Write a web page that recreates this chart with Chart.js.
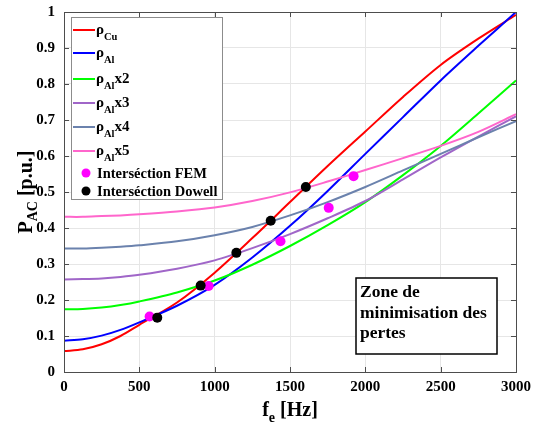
<!DOCTYPE html>
<html>
<head>
<meta charset="utf-8">
<script src="https://cdn.jsdelivr.net/npm/chart.js@4.4.1/dist/chart.umd.min.js"></script>
<style>
  html, body { margin: 0; padding: 0; background: #fff; }
  #wrap { width: 534px; height: 424px; }
</style>
</head>
<body>
<div id="wrap"><canvas id="chart" width="534" height="424"></canvas></div>
<script>
// fréquence [Hz]
const freq = [0, 125, 250, 375, 500, 750, 1000, 1250, 1500, 1750, 2000, 2250, 2500, 2750, 3000];

// P_AC [p.u.] pour chaque résistivité
const rhoCu  = [0.058, 0.063, 0.077, 0.100, 0.131, 0.193, 0.276, 0.372, 0.472, 0.572, 0.668, 0.764, 0.853, 0.926, 0.992];
const rhoAl  = [0.087, 0.091, 0.101, 0.117, 0.138, 0.184, 0.242, 0.318, 0.406, 0.503, 0.606, 0.708, 0.810, 0.906, 1.000];
const rhoAl2 = [0.174, 0.175, 0.179, 0.186, 0.196, 0.221, 0.254, 0.298, 0.350, 0.408, 0.472, 0.547, 0.628, 0.718, 0.810];
const rhoAl3 = [0.257, 0.258, 0.260, 0.264, 0.270, 0.287, 0.310, 0.344, 0.383, 0.427, 0.475, 0.535, 0.596, 0.654, 0.710];
const rhoAl4 = [0.343, 0.343, 0.345, 0.348, 0.352, 0.363, 0.380, 0.403, 0.435, 0.472, 0.514, 0.560, 0.606, 0.652, 0.697];
const rhoAl5 = [0.431, 0.431, 0.433, 0.435, 0.438, 0.446, 0.457, 0.475, 0.499, 0.529, 0.561, 0.594, 0.628, 0.667, 0.716];

// points d'intersection
const femX    = [568, 960, 1437, 1757, 1922];
const femY    = [0.154, 0.239, 0.363, 0.456, 0.544];
const dowellX = [619, 907, 1144, 1372, 1605];
const dowellY = [0.151, 0.240, 0.331, 0.420, 0.514];

const seriesSubs  = ['Cu', 'Al', 'Al', 'Al', 'Al', 'Al'];
const seriesRest  = ['', '', 'x2', 'x3', 'x4', 'x5'];
const seriesColor = ['#ff0000', '#0000ff', '#00ff00', '#a066c8', '#6b82ad', '#ff66cc'];
const seriesData  = [rhoCu, rhoAl, rhoAl2, rhoAl3, rhoAl4, rhoAl5];
const markerNames = ['Interséction FEM', 'Interséction Dowell'];
const markerColor = ['#ff00ff', '#000000'];
const zoneLines   = ['Zone de', 'minimisation des', 'pertes'];

const SERIF = "'Liberation Serif', 'Times New Roman', serif";

function pts(xs, ys) {
    return xs.map((x, i) => ({ x: x, y: ys[i] }));
}

// texte avec indice
function subText(ctx, x, y, main, sub, rest, size, subSize, drop) {
    ctx.font = 'bold ' + size + 'px ' + SERIF;
    ctx.fillText(main, x, y);
    x += ctx.measureText(main).width;
    ctx.font = 'bold ' + subSize + 'px ' + SERIF;
    ctx.fillText(sub, x, y + drop);
    x += ctx.measureText(sub).width;
    if (rest) {
        ctx.font = 'bold ' + size + 'px ' + SERIF;
        ctx.fillText(rest, x, y);
        x += ctx.measureText(rest).width;
    }
    return x;
}

function subWidth(ctx, main, sub, rest, size, subSize) {
    ctx.font = 'bold ' + size + 'px ' + SERIF;
    let w = ctx.measureText(main).width + ctx.measureText(rest).width;
    ctx.font = 'bold ' + subSize + 'px ' + SERIF;
    return w + ctx.measureText(sub).width;
}

const decor = {
    id: 'decor',
    afterDraw(chart) {
        const ctx = chart.ctx;
        const a = chart.chartArea;
        const sx = chart.scales.x, sy = chart.scales.y;
        ctx.save();

        // cadre + graduations intérieures
        ctx.strokeStyle = '#4d4d4d';
        ctx.lineWidth = 1;
        ctx.beginPath();
        sx.ticks.forEach(t => {
            const px = Math.round(sx.getPixelForValue(t.value)) + 0.5;
            ctx.moveTo(px, a.bottom); ctx.lineTo(px, a.bottom - 5);
            ctx.moveTo(px, a.top); ctx.lineTo(px, a.top + 5);
        });
        sy.ticks.forEach(t => {
            const py = Math.round(sy.getPixelForValue(t.value)) + 0.5;
            ctx.moveTo(a.left, py); ctx.lineTo(a.left + 5, py);
            ctx.moveTo(a.right, py); ctx.lineTo(a.right - 5, py);
        });
        ctx.stroke();
        ctx.strokeRect(Math.round(a.left) + 0.5, Math.round(a.top) + 0.5,
            Math.round(a.right - a.left), Math.round(a.bottom - a.top));

        ctx.fillStyle = '#000';
        ctx.textBaseline = 'alphabetic';
        ctx.textAlign = 'left';

        // titre axe x
        const cx = (a.left + a.right) / 2;
        const wx = subWidth(ctx, 'f', 'e', ' [Hz]', 20, 14);
        subText(ctx, cx - wx / 2, 416, 'f', 'e', ' [Hz]', 20, 14, 6);

        // titre axe y
        ctx.save();
        const cy = (a.top + a.bottom) / 2;
        ctx.translate(32, cy);
        ctx.rotate(-Math.PI / 2);
        const wy = subWidth(ctx, 'P', 'AC', ' [p.u.]', 20, 14);
        subText(ctx, -wy / 2, 0, 'P', 'AC', ' [p.u.]', 20, 14, 5);
        ctx.restore();

        // légende
        const lx = 71, ly = 17, lw = 151, lh = 182;
        ctx.fillStyle = '#fff';
        ctx.fillRect(lx, ly, lw, lh);
        ctx.strokeStyle = '#8c8c8c';
        ctx.strokeRect(lx + 0.5, ly + 0.5, lw, lh);
        const rowY = [30, 53, 79, 103, 127, 151];
        seriesSubs.forEach((s, i) => {
            const y = rowY[i];
            ctx.strokeStyle = seriesColor[i];
            ctx.lineWidth = 2;
            ctx.beginPath();
            ctx.moveTo(73, y); ctx.lineTo(95, y);
            ctx.stroke();
            ctx.fillStyle = '#000';
            subText(ctx, 96, y + 4, 'ρ', s, seriesRest[i], 15, 10.5, 6);
        });
        const markY = [173, 191];
        markerNames.forEach((n, i) => {
            const y = markY[i];
            ctx.fillStyle = markerColor[i];
            ctx.beginPath();
            ctx.arc(86, y, 4.5, 0, Math.PI * 2);
            ctx.fill();
            ctx.fillStyle = '#000';
            ctx.font = 'bold 14.5px ' + SERIF;
            ctx.fillText(n, 97, y + 5);
        });

        // zone de minimisation
        ctx.fillStyle = '#fff';
        ctx.fillRect(356, 278, 141, 76);
        ctx.strokeStyle = '#000';
        ctx.lineWidth = 1.5;
        ctx.strokeRect(356, 278, 141, 76);
        ctx.fillStyle = '#000';
        ctx.font = 'bold 17.5px ' + SERIF;
        zoneLines.forEach((t, i) => ctx.fillText(t, 360, 297 + i * 20.5));

        ctx.restore();
    }
};

const datasets = [
    {
        label: markerNames[1], data: pts(dowellX, dowellY), showLine: false,
        pointRadius: 5, pointBackgroundColor: markerColor[1], pointBorderWidth: 0,
        borderColor: markerColor[1], order: 0
    },
    {
        label: markerNames[0], data: pts(femX, femY), showLine: false,
        pointRadius: 5, pointBackgroundColor: markerColor[0], pointBorderWidth: 0,
        borderColor: markerColor[0], order: 1
    }
];
seriesData.forEach((d, i) => {
    datasets.push({
        label: 'ρ' + seriesSubs[i] + seriesRest[i],
        data: pts(freq, d),
        borderColor: seriesColor[i],
        borderWidth: 2,
        pointRadius: 0,
        tension: 0.3,
        order: 10 - i
    });
});

new Chart(document.getElementById('chart').getContext('2d'), {
    type: 'line',
    data: { datasets: datasets },
    options: {
        responsive: false,
        animation: false,
        devicePixelRatio: 1,
        layout: { padding: { left: 0, right: 18, top: 12, bottom: 0 } },
        plugins: {
            legend: { display: false },
            tooltip: { enabled: false }
        },
        scales: {
            x: {
                type: 'linear', min: 0, max: 3000,
                afterFit: s => { s.height = 52; s.paddingLeft = 0; s.paddingRight = 0; },
                ticks: {
                    stepSize: 500, padding: 6, color: '#000', maxRotation: 0,
                    font: { family: SERIF, size: 15, weight: 'bold' },
                    callback: v => String(v)
                },
                grid: { color: '#e6e6e6', drawTicks: false },
                border: { display: false }
            },
            y: {
                min: 0, max: 1,
                afterFit: s => { s.width = 64; s.paddingTop = 0; s.paddingBottom = 0; },
                ticks: {
                    stepSize: 0.1, padding: 9, color: '#000',
                    font: { family: SERIF, size: 15, weight: 'bold' },
                    callback: v => (v === 0 || v === 1) ? String(v) : v.toFixed(1)
                },
                grid: { color: '#e6e6e6', drawTicks: false },
                border: { display: false }
            }
        }
    },
    plugins: [decor]
});
</script>
</body>
</html>
